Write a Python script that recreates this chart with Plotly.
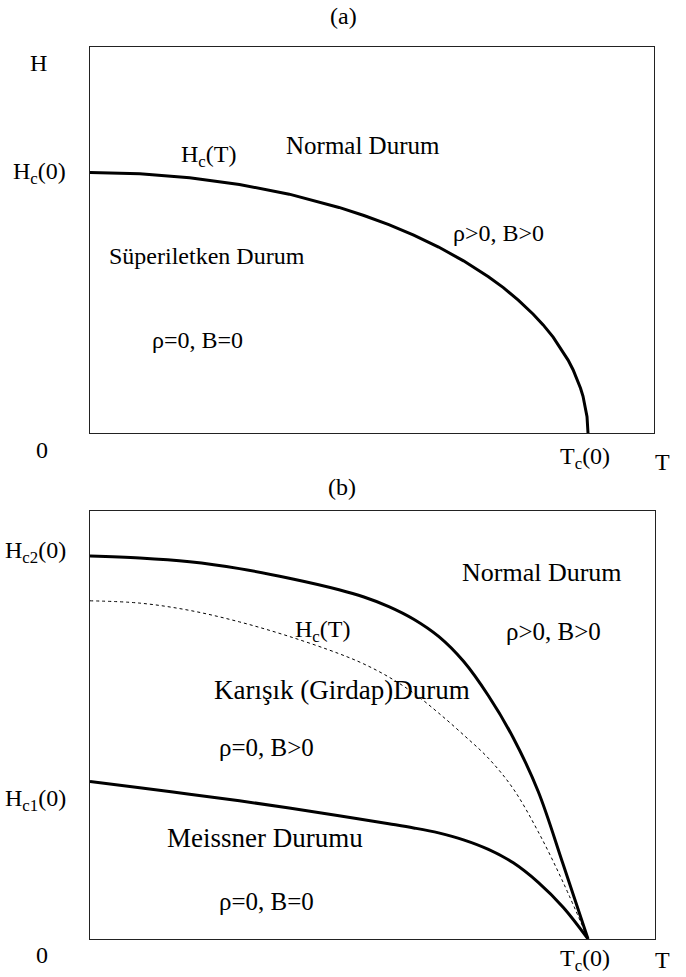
import plotly.graph_objects as go

# ---- data (T in units of Tc(0); H normalised) ----
# panel (a): critical field Hc(T), H in units of Hc(0)
T_a = [0.0, 0.1, 0.2, 0.3, 0.4, 0.5, 0.55, 0.6, 0.65, 0.7, 0.75, 0.8, 0.83, 0.86, 0.89,
       0.91, 0.93, 0.95, 0.96, 0.97, 0.98, 0.985, 0.99, 0.995, 0.998, 1.0]
H_a = [1.0, 0.995, 0.98, 0.954, 0.917, 0.866, 0.835, 0.80, 0.76, 0.714, 0.661, 0.60, 0.558, 0.51, 0.456,
       0.415, 0.368, 0.312, 0.28, 0.243, 0.199, 0.172, 0.141, 0.10, 0.063, 0.0]

# panel (b): H in units of Hc2(0)
T_c2 = [0.0, 0.1, 0.2, 0.3, 0.4, 0.5, 0.55, 0.6, 0.65, 0.7, 0.75, 0.8, 0.85, 0.9, 0.95, 1.0]
H_c2 = [1.0, 0.995, 0.985, 0.967, 0.942, 0.912, 0.893, 0.868, 0.835, 0.79, 0.725, 0.635, 0.525, 0.385, 0.195, 0.0]

T_hc = [0.0, 0.1, 0.2, 0.3, 0.4, 0.5, 0.55, 0.6, 0.65, 0.7, 0.75, 0.8, 0.85, 0.9, 0.95, 1.0]
H_hc = [0.883, 0.877, 0.858, 0.828, 0.790, 0.745, 0.718, 0.684, 0.642, 0.590, 0.533, 0.472, 0.392, 0.280, 0.148, 0.0]

T_c1 = [0.0, 0.1, 0.2, 0.3, 0.4, 0.5, 0.6, 0.65, 0.7, 0.75, 0.8, 0.85, 0.9, 0.95, 1.0]
H_c1 = [0.411, 0.395, 0.378, 0.361, 0.342, 0.322, 0.301, 0.290, 0.277, 0.259, 0.234, 0.199, 0.148, 0.083, 0.0]

FONT = "Liberation Serif, Times New Roman, serif"
FS = 24
FB = 26
W, H = 686, 977

fig = go.Figure()
fig.add_trace(go.Scatter(x=T_a, y=H_a, mode="lines", xaxis="x", yaxis="y",
                         line=dict(color="black", width=3, shape="linear"), showlegend=False))
fig.add_trace(go.Scatter(x=T_c2, y=H_c2, mode="lines", xaxis="x2", yaxis="y2",
                         line=dict(color="black", width=3, shape="spline"), showlegend=False))
fig.add_trace(go.Scatter(x=T_hc, y=H_hc, mode="lines", xaxis="x2", yaxis="y2",
                         line=dict(color="black", width=1, dash="dot", shape="spline"), showlegend=False))
fig.add_trace(go.Scatter(x=T_c1, y=H_c1, mode="lines", xaxis="x2", yaxis="y2",
                         line=dict(color="black", width=3, shape="spline"), showlegend=False))

ax = dict(showline=True, mirror=True, linecolor="#222", linewidth=1.3,
          showgrid=False, zeroline=False, showticklabels=False, ticks="")
fig.update_layout(
    width=W, height=H,
    margin=dict(l=0, r=0, t=0, b=0),
    paper_bgcolor="white", plot_bgcolor="white",
    xaxis=dict(domain=[90/W, 654/W], range=[0, 1.1325], anchor="y", **ax),
    yaxis=dict(domain=[1-433/H, 1-47/H], range=[0, 1.482], anchor="x", **ax),
    xaxis2=dict(domain=[90/W, 655/W], range=[0, 1.1345], anchor="y2", **ax),
    yaxis2=dict(domain=[1-939/H, 1-511/H], range=[0, 1.1175], anchor="x2", **ax),
)

def lab(text, x, y, xref, yref, xa="center", size=FS):
    fig.add_annotation(text=text, x=x, y=y, xref=xref, yref=yref,
                       xanchor=xa, yanchor="middle", showarrow=False,
                       font=dict(family=FONT, size=size, color="black"))

def px(xp):
    return xp / W

def py(yp):
    return 1 - yp / H

# panel (a) — inside
lab("H<sub>c</sub>(T)", 0.237, 1.063, "x", "y")
lab("Normal Durum", 0.548, 1.102, "x", "y", size=25)
lab("ρ>0, B>0", 0.821, 0.768, "x", "y")
lab("Süperiletken Durum", 0.235, 0.679, "x", "y")
lab("ρ=0, B=0", 0.215, 0.357, "x", "y")
# panel (a) — outside the frame
lab("(a)", px(343), py(16), "paper", "paper")
lab("H", px(38), py(63), "paper", "paper")
lab("H<sub>c</sub>(0)", px(68), 1.0, "paper", "y", xa="right")
lab("0", px(42), py(450), "paper", "paper")
lab("T<sub>c</sub>(0)", 0.994, py(458), "x", "paper")
lab("T", px(662), py(462), "paper", "paper")

# panel (b) — inside
lab("Normal Durum", 0.908, 0.958, "x2", "y2", size=FB)
lab("H<sub>c</sub>(T)", 0.466, 0.804, "x2", "y2")
lab("ρ>0, B>0", 0.930, 0.804, "x2", "y2", size=25)
lab("Karışık (Girdap)Durum", 0.506, 0.650, "x2", "y2", size=27)
lab("ρ=0, B>0", 0.355, 0.499, "x2", "y2", size=25)
lab("Meissner Durumu", 0.351, 0.264, "x2", "y2", size=27)
lab("ρ=0, B=0", 0.355, 0.099, "x2", "y2", size=25)
# panel (b) — outside the frame
lab("(b)", px(342), py(487), "paper", "paper")
lab("H<sub>c2</sub>(0)", px(68), 1.010, "paper", "y2", xa="right")
lab("H<sub>c1</sub>(0)", px(68), 0.363, "paper", "y2", xa="right")
lab("0", px(42), py(955), "paper", "paper")
lab("T<sub>c</sub>(0)", 0.994, py(960), "x2", "paper")
lab("T", px(662), py(960), "paper", "paper")

fig.write_html("out.html")
